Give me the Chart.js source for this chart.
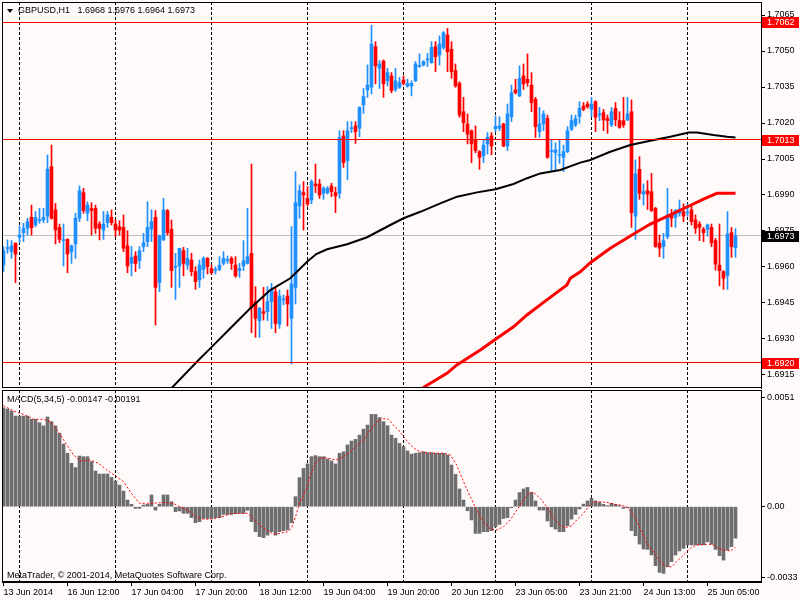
<!DOCTYPE html>
<html>
<head>
<meta charset="utf-8">
<script src="https://cdn.jsdelivr.net/npm/chart.js@4.4.1/dist/chart.umd.min.js"></script>
<style>
  html, body { margin: 0; padding: 0; background: #fffafa; }
  body { width: 800px; height: 600px; position: relative; overflow: hidden; font-family: "Liberation Sans", Arial, sans-serif; }
  canvas { position: absolute; left: 0; }
  #priceCanvas { top: 0; }
  #macdCanvas { top: 388px; }
  .note { position: absolute; font-size: 9px; line-height: 10px; color: #000; white-space: pre; }
  #tri { position: absolute; left: 7px; top: 9px; width: 0; height: 0;
         border-left: 3.5px solid transparent; border-right: 3.5px solid transparent; border-top: 4px solid #000; }
</style>
</head>
<body>
<canvas id="priceCanvas" width="800" height="390"></canvas>
<canvas id="macdCanvas" width="800" height="212"></canvas>
<div id="tri"></div>
<div class="note" style="left:18px; top:5px">GBPUSD,H1   1.6968 1.6976 1.6964 1.6973</div>
<div class="note" style="left:7px; top:394px">MACD(5,34,5) -0.00147 -0.00191</div>
<div class="note" style="left:7px; top:570px">MetaTrader, © 2001-2014, MetaQuotes Software Corp.</div>
<script>
// H1 candles, 13 Jun 19:00 .. 25 Jun 12:00 (one entry per bar)
const openPrices = [
  1.69608, 1.69676, 1.69664, 1.69699, 1.69724, 1.69743, 1.69761, 1.69807, 1.69775, 1.69793,
  1.69796, 1.69812, 1.70018, 1.69838, 1.69765, 1.69710, 1.69715, 1.69664, 1.69696, 1.69803,
  1.69910, 1.69824, 1.69844, 1.69844, 1.69779, 1.69754, 1.69785, 1.69807, 1.69779, 1.69768,
  1.69765, 1.69688, 1.69615, 1.69646, 1.69626, 1.69685, 1.69706, 1.69757, 1.69807, 1.69535,
  1.69713, 1.69835, 1.69757, 1.69599, 1.69604, 1.69668, 1.69608, 1.69629, 1.69581, 1.69546,
  1.69590, 1.69636, 1.69594, 1.69585, 1.69590, 1.69615, 1.69626, 1.69636, 1.69608, 1.69585,
  1.69604, 1.69615, 1.69657, 1.69456, 1.69376, 1.69414, 1.69414, 1.69456, 1.69497, 1.69362,
  1.69463, 1.69479, 1.69386, 1.69515, 1.69854, 1.69910, 1.69886, 1.69879, 1.69946, 1.69946,
  1.69907, 1.69910, 1.69938, 1.69910, 1.69907, 1.70146, 1.70043, 1.70176, 1.70188, 1.70178,
  1.70275, 1.70338, 1.70349, 1.70518, 1.70428, 1.70458, 1.70376, 1.70396, 1.70340, 1.70349,
  1.70379, 1.70354, 1.70354, 1.70376, 1.70435, 1.70442, 1.70463, 1.70451, 1.70518, 1.70483,
  1.70515, 1.70567, 1.70507, 1.70418, 1.70365, 1.70247, 1.70196, 1.70168, 1.70129, 1.70081,
  1.70063, 1.70113, 1.70146, 1.70176, 1.70178, 1.70196, 1.70104, 1.70226, 1.70338, 1.70313,
  1.70396, 1.70382, 1.70358, 1.70299, 1.70164, 1.70196, 1.70219, 1.70081, 1.70076, 1.70065,
  1.70057, 1.70081, 1.70174, 1.70192, 1.70226, 1.70271, 1.70279, 1.70257, 1.70289, 1.70233,
  1.70243, 1.70219, 1.70192, 1.70261, 1.70210, 1.70210, 1.70213, 1.70247, 1.69812, 1.70007,
  1.69904, 1.69918, 1.69914, 1.69844, 1.69699, 1.69685, 1.69726, 1.69817, 1.69807, 1.69824,
  1.69831, 1.69825, 1.69838, 1.69796, 1.69779, 1.69757, 1.69757, 1.69765, 1.69710, 1.69608,
  1.69581, 1.69563, 1.69743, 1.69680
];
const highPrices = [
  1.69685, 1.69713, 1.69710, 1.69701, 1.69771, 1.69782, 1.69803, 1.69858, 1.69831, 1.69844,
  1.69844, 1.70067, 1.70108, 1.69865, 1.69779, 1.69779, 1.69718, 1.69692, 1.69824, 1.69938,
  1.69928, 1.69872, 1.69868, 1.69858, 1.69789, 1.69831, 1.69831, 1.69838, 1.69796, 1.69793,
  1.69817, 1.69751, 1.69685, 1.69664, 1.69685, 1.69740, 1.69872, 1.69838, 1.69835, 1.69733,
  1.69886, 1.69840, 1.69796, 1.69657, 1.69678, 1.69682, 1.69678, 1.69657, 1.69601, 1.69629,
  1.69643, 1.69640, 1.69608, 1.69601, 1.69643, 1.69664, 1.69646, 1.69643, 1.69643, 1.69615,
  1.69710, 1.69844, 1.70029, 1.69518, 1.69432, 1.69515, 1.69518, 1.69532, 1.69515, 1.69504,
  1.69483, 1.69504, 1.69768, 1.69997, 1.69942, 1.69956, 1.69935, 1.69963, 1.70029, 1.69965,
  1.69935, 1.69935, 1.69949, 1.69932, 1.70168, 1.70168, 1.70206, 1.70206, 1.70206, 1.70268,
  1.70344, 1.70442, 1.70608, 1.70539, 1.70460, 1.70463, 1.70428, 1.70410, 1.70428, 1.70390,
  1.70396, 1.70382, 1.70376, 1.70456, 1.70488, 1.70460, 1.70490, 1.70539, 1.70539, 1.70563,
  1.70581, 1.70594, 1.70539, 1.70446, 1.70372, 1.70307, 1.70238, 1.70171, 1.70188, 1.70085,
  1.70129, 1.70160, 1.70160, 1.70229, 1.70226, 1.70199, 1.70279, 1.70358, 1.70382, 1.70438,
  1.70446, 1.70488, 1.70410, 1.70307, 1.70265, 1.70251, 1.70233, 1.70129, 1.70118, 1.70129,
  1.70108, 1.70185, 1.70233, 1.70233, 1.70289, 1.70285, 1.70289, 1.70307, 1.70293, 1.70265,
  1.70257, 1.70233, 1.70265, 1.70285, 1.70247, 1.70307, 1.70307, 1.70296, 1.70046, 1.70060,
  1.69946, 1.69960, 1.69990, 1.69849, 1.69733, 1.69740, 1.69928, 1.69840, 1.69840, 1.69879,
  1.69863, 1.69863, 1.69854, 1.69817, 1.69789, 1.69765, 1.69779, 1.69779, 1.69719, 1.69779,
  1.69585, 1.69831, 1.69765, 1.69760
];
const lowPrices = [
  1.69581, 1.69657, 1.69636, 1.69535, 1.69701, 1.69706, 1.69733, 1.69733, 1.69768, 1.69782,
  1.69785, 1.69785, 1.69799, 1.69696, 1.69701, 1.69604, 1.69576, 1.69615, 1.69636, 1.69789,
  1.69824, 1.69793, 1.69733, 1.69740, 1.69713, 1.69715, 1.69765, 1.69775, 1.69726, 1.69733,
  1.69664, 1.69576, 1.69563, 1.69581, 1.69594, 1.69664, 1.69685, 1.69706, 1.69358, 1.69497,
  1.69710, 1.69733, 1.69515, 1.69465, 1.69515, 1.69563, 1.69590, 1.69563, 1.69507, 1.69515,
  1.69553, 1.69571, 1.69571, 1.69571, 1.69585, 1.69608, 1.69615, 1.69590, 1.69557, 1.69557,
  1.69585, 1.69612, 1.69326, 1.69307, 1.69307, 1.69379, 1.69376, 1.69344, 1.69326, 1.69344,
  1.69442, 1.69354, 1.69196, 1.69446, 1.69803, 1.69754, 1.69854, 1.69863, 1.69910, 1.69886,
  1.69882, 1.69904, 1.69893, 1.69826, 1.69886, 1.70015, 1.69963, 1.70160, 1.70115, 1.70143,
  1.70240, 1.70307, 1.70321, 1.70363, 1.70344, 1.70307, 1.70354, 1.70326, 1.70331, 1.70344,
  1.70358, 1.70349, 1.70313, 1.70372, 1.70432, 1.70438, 1.70435, 1.70449, 1.70414, 1.70442,
  1.70507, 1.70414, 1.70386, 1.70349, 1.70224, 1.70164, 1.70113, 1.70035, 1.70076, 1.70007,
  1.70035, 1.70071, 1.70067, 1.70164, 1.70168, 1.70101, 1.70085, 1.70206, 1.70321, 1.70310,
  1.70340, 1.70354, 1.70247, 1.70140, 1.70140, 1.70168, 1.70053, 1.69997, 1.70004, 1.70032,
  1.69997, 1.70076, 1.70168, 1.70185, 1.70199, 1.70251, 1.70261, 1.70226, 1.70164, 1.70210,
  1.70168, 1.70157, 1.70185, 1.70188, 1.70178, 1.70182, 1.70210, 1.69765, 1.69715, 1.69882,
  1.69858, 1.69840, 1.69831, 1.69682, 1.69643, 1.69636, 1.69718, 1.69768, 1.69765, 1.69812,
  1.69789, 1.69812, 1.69775, 1.69740, 1.69710, 1.69706, 1.69729, 1.69685, 1.69587, 1.69521,
  1.69507, 1.69507, 1.69640, 1.69640
];
const closePrices = [
  1.69668, 1.69681, 1.69688, 1.69654, 1.69733, 1.69760, 1.69789, 1.69764, 1.69807, 1.69797,
  1.69807, 1.70008, 1.69803, 1.69754, 1.69715, 1.69713, 1.69654, 1.69688, 1.69803, 1.69918,
  1.69835, 1.69858, 1.69835, 1.69761, 1.69761, 1.69779, 1.69817, 1.69785, 1.69754, 1.69754,
  1.69678, 1.69604, 1.69640, 1.69615, 1.69668, 1.69701, 1.69765, 1.69789, 1.69515, 1.69729,
  1.69838, 1.69743, 1.69585, 1.69601, 1.69678, 1.69615, 1.69636, 1.69581, 1.69539, 1.69608,
  1.69636, 1.69601, 1.69576, 1.69589, 1.69608, 1.69636, 1.69631, 1.69615, 1.69563, 1.69594,
  1.69626, 1.69643, 1.69432, 1.69386, 1.69428, 1.69407, 1.69456, 1.69507, 1.69365, 1.69479,
  1.69467, 1.69446, 1.69529, 1.69868, 1.69918, 1.69900, 1.69863, 1.69956, 1.69938, 1.69900,
  1.69928, 1.69928, 1.69914, 1.69896, 1.70140, 1.70035, 1.70168, 1.70179, 1.70164, 1.70265,
  1.70310, 1.70358, 1.70529, 1.70438, 1.70446, 1.70363, 1.70410, 1.70335, 1.70376, 1.70368,
  1.70365, 1.70365, 1.70365, 1.70446, 1.70438, 1.70456, 1.70465, 1.70515, 1.70476, 1.70529,
  1.70576, 1.70497, 1.70414, 1.70354, 1.70233, 1.70201, 1.70154, 1.70113, 1.70085, 1.70057,
  1.70108, 1.70140, 1.70104, 1.70186, 1.70188, 1.70104, 1.70238, 1.70326, 1.70326, 1.70386,
  1.70363, 1.70368, 1.70285, 1.70185, 1.70196, 1.70238, 1.70057, 1.70085, 1.70088, 1.70068,
  1.70081, 1.70168, 1.70210, 1.70219, 1.70261, 1.70257, 1.70268, 1.70279, 1.70224, 1.70238,
  1.70213, 1.70210, 1.70247, 1.70213, 1.70182, 1.70192, 1.70238, 1.69826, 1.69988, 1.69907,
  1.69914, 1.69904, 1.69835, 1.69685, 1.69678, 1.69710, 1.69817, 1.69803, 1.69835, 1.69840,
  1.69812, 1.69828, 1.69789, 1.69761, 1.69765, 1.69743, 1.69775, 1.69701, 1.69612, 1.69585,
  1.69553, 1.69738, 1.69685, 1.69730
];

// moving averages, read at sample bars
const blackMaBars = [42.1, 49.2, 51.7, 56.7, 61.7, 66.7, 71.7, 75.9, 78.2, 80.9, 85.9, 90.9,
  96.7, 100, 104.2, 109.2, 113.4, 118.4, 123, 127.5, 130.9, 134.2, 139.2, 144.2, 146.7,
  151.7, 156.7, 161.7, 166.7, 171.3, 173.4, 177.5, 180.9, 183];
const blackMaValues = [1.69097, 1.69220, 1.69261, 1.69345, 1.69428, 1.69504, 1.69553, 1.69622,
  1.69654, 1.69674, 1.69695, 1.69724, 1.69775, 1.69803, 1.69830, 1.69865, 1.69893, 1.69911,
  1.69924, 1.69946, 1.69970, 1.69990, 1.70004, 1.70035, 1.70046, 1.70080, 1.70108, 1.70126,
  1.70143, 1.70160, 1.70160, 1.70150, 1.70143, 1.70140];
const redMaBars = [104.85, 110.85, 113.35, 119.2, 123, 127.5, 130.85, 135.85, 140.85, 141.7,
  144.2, 146.7, 151.7, 156.7, 161.7, 166.7, 171, 175, 178.35, 183];
const redMaValues = [1.69097, 1.69157, 1.69192, 1.69254, 1.69299, 1.69351, 1.69400, 1.69463,
  1.69525, 1.69553, 1.69580, 1.69618, 1.69678, 1.69729, 1.69779, 1.69817, 1.69851, 1.69883,
  1.69907, 1.69907];

// MACD(5,34,5) main histogram, one per bar
const macdValues = [
  0.00463, 0.00457, 0.00448, 0.00424, 0.00424, 0.00424, 0.00424, 0.00409, 0.00409, 0.00393,
  0.00378, 0.00420, 0.00398, 0.00378, 0.00343, 0.00293, 0.00250, 0.00203, 0.00183, 0.00237,
  0.00234, 0.00234, 0.00211, 0.00167, 0.00153, 0.00153, 0.00153, 0.00137, 0.00120, 0.00101,
  0.00073, 0.00031, 0.00011, -0.00008, -0.00008, 0.00008, 0.00011, 0.00055, -0.00016, 0.00011,
  0.00055, 0.00055, 0.00023, -0.00023, -0.00020, -0.00031, -0.00031, -0.00051, -0.00075, -0.00070,
  -0.00055, -0.00055, -0.00055, -0.00051, -0.00051, -0.00036, -0.00036, -0.00036, -0.00033, -0.00031,
  -0.00031, -0.00017, -0.00070, -0.00117, -0.00140, -0.00145, -0.00133, -0.00117, -0.00133, -0.00117,
  -0.00112, -0.00109, -0.00075, 0.00047, 0.00136, 0.00179, 0.00200, 0.00234, 0.00239, 0.00234,
  0.00234, 0.00223, 0.00214, 0.00200, 0.00250, 0.00257, 0.00289, 0.00307, 0.00315, 0.00335,
  0.00363, 0.00382, 0.00432, 0.00432, 0.00417, 0.00398, 0.00379, 0.00335, 0.00320, 0.00296,
  0.00281, 0.00261, 0.00246, 0.00250, 0.00253, 0.00257, 0.00253, 0.00253, 0.00250, 0.00250,
  0.00250, 0.00242, 0.00195, 0.00151, 0.00083, 0.00031, -0.00019, -0.00062, -0.00125, -0.00125,
  -0.00117, -0.00117, -0.00112, -0.00094, -0.00083, -0.00055, -0.00051, -0.00005, 0.00031, 0.00066,
  0.00083, 0.00090, 0.00067, 0.00027, -0.00016, -0.00016, -0.00067, -0.00094, -0.00105, -0.00117,
  -0.00117, -0.00089, -0.00058, -0.00036, -0.00011, 0.00012, 0.00027, 0.00039, 0.00027, 0.00020,
  0.00011, 0.00005, 0.00016, 0.00011, 0.00005, -0.00008, -0.00005, -0.00112, -0.00136, -0.00175,
  -0.00198, -0.00200, -0.00226, -0.00276, -0.00307, -0.00312, -0.00281, -0.00257, -0.00226, -0.00207,
  -0.00195, -0.00179, -0.00179, -0.00179, -0.00179, -0.00179, -0.00164, -0.00176, -0.00200, -0.00229,
  -0.00250, -0.00203, -0.00187, -0.00147
];
// signal line, read at sample bars
const signalBars = [0, 2.5, 5, 7.5, 10, 11.7, 13.75, 15.8, 17.5, 19.2, 21.7, 23.75, 25.8, 27.9,
  30, 32, 34, 36, 37.5, 40, 42.5, 44, 46, 48, 50, 52, 54, 57, 59, 61, 62.5, 64, 66, 67.5, 69,
  71, 72, 73, 74, 75.8, 76.7, 78, 79, 80.8, 83, 85, 86.7, 88.3, 90, 91.7, 93.3, 94.6, 96.25,
  97.5, 98.75, 100, 101.7, 103.3, 105, 107.5, 110, 111.7, 113.3, 115, 116.7, 118.3, 120, 121.7,
  123.3, 125, 126.7, 128.3, 130, 131.25, 132.5, 134.2, 135.8, 137.5, 139.2, 140.4, 142.1, 143.3,
  145, 146.25, 147.5, 149.2, 150.8, 152.9, 154.2, 155.8, 157.5, 159.2, 160.8, 162.5, 164.2,
  165.8, 167.1, 168.3, 170, 171.7, 173.3, 175, 177.1, 178.75, 180, 181.7, 183];
const signalValues = [0.00473, 0.00448, 0.00432, 0.00409, 0.00409, 0.00398, 0.00351, 0.00289,
  0.00242, 0.00214, 0.00218, 0.00203, 0.00172, 0.00145, 0.00117, 0.00062, 0.00016, 0.00016,
  0.00016, 0.00020, 0.00016, 0, -0.00016, -0.00047, -0.00059, -0.00058, -0.00050, -0.00033,
  -0.00031, -0.00031, -0.00055, -0.00086, -0.00112, -0.00129, -0.00125, -0.00117, -0.00101,
  -0.00047, 0.00016, 0.00086, 0.00148, 0.00203, 0.00226, 0.00229, 0.00218, 0.00234, 0.00257,
  0.00285, 0.00312, 0.00359, 0.00398, 0.00413, 0.00409, 0.00382, 0.00359, 0.00328, 0.00289,
  0.00265, 0.00253, 0.00250, 0.00250, 0.00242, 0.00195, 0.00117, 0.00047, -0.00016, -0.00070,
  -0.00105, -0.00109, -0.00094, -0.00062, -0.00016, 0.00031, 0.00062, 0.00067, 0.00039, 0,
  -0.00055, -0.00086, -0.00098, -0.00089, -0.00062, -0.00031, 0, 0.00023, 0.00023, 0.00020,
  0.00011, 0.00008, 0, -0.00039, -0.00101, -0.00172, -0.00211, -0.00257, -0.00281, -0.00281,
  -0.00257, -0.00226, -0.00195, -0.00179, -0.00176, -0.00176, -0.00195, -0.00203, -0.00207,
  -0.00191];

// axes and marked levels
const labelBars = [0, 16, 32, 48, 64, 80, 96, 112, 128, 144, 160, 176];
const labelTexts = ['13 Jun 2014', '16 Jun 12:00', '17 Jun 04:00', '17 Jun 20:00', '18 Jun 12:00',
  '19 Jun 04:00', '19 Jun 20:00', '20 Jun 12:00', '23 Jun 05:00', '23 Jun 21:00',
  '24 Jun 13:00', '25 Jun 05:00'];
const separatorBars = [4, 28, 52, 76, 100, 123, 147, 171];
const priceTicks = [1.6915, 1.6930, 1.6945, 1.6960, 1.6975, 1.6990, 1.7005, 1.7020, 1.7035, 1.7050, 1.7065];
const macdTicks = [-0.0033, 0, 0.0051];
const levelPrices = [1.7062, 1.7013, 1.6920];
const bidPrice = 1.6973;

const bullColor = '#1e90ff';
const bearColor = '#ff0000';
const axisFont = { family: 'Liberation Sans', size: 9 };

const candleColors = closePrices.map((c, i) => (c >= openPrices[i] ? bullColor : bearColor));
const bodies = openPrices.map((o, i) => ({ x: i, y: [o, closePrices[i]] }));
const wicks = lowPrices.map((l, i) => ({ x: i, y: [l, highPrices[i]] }));
const toPoints = (xs, ys) => xs.map((x, i) => ({ x: x, y: ys[i] }));

function barAxis(extra) {
  return Object.assign({
    type: 'linear',
    min: -0.375,
    max: 189.375,
    offset: false,
  }, extra);
}

function drawSeparators(chart) {
  const { ctx, chartArea: a, scales } = chart;
  ctx.save();
  ctx.strokeStyle = '#000';
  ctx.lineWidth = 1;
  ctx.setLineDash([3, 2]);
  separatorBars.forEach((b) => {
    const px = Math.floor(scales.x.getPixelForValue(b)) + 0.5;
    ctx.beginPath();
    ctx.moveTo(px, a.top);
    ctx.lineTo(px, a.bottom);
    ctx.stroke();
  });
  ctx.restore();
}

function drawFrame(chart) {
  const { ctx, chartArea: a } = chart;
  ctx.save();
  ctx.strokeStyle = '#000';
  ctx.lineWidth = 1;
  ctx.strokeRect(a.left + 0.5, a.top + 0.5, a.right - a.left, a.bottom - a.top - 1);
  ctx.restore();
}

const priceOverlay = {
  id: 'priceOverlay',
  beforeDatasetsDraw(chart) {
    const { ctx, chartArea: a, scales } = chart;
    drawSeparators(chart);
    ctx.save();
    const by = Math.floor(scales.y.getPixelForValue(bidPrice)) + 0.5;
    ctx.strokeStyle = '#c0c0c0';
    ctx.beginPath();
    ctx.moveTo(a.left, by);
    ctx.lineTo(a.right, by);
    ctx.stroke();
    ctx.restore();
  },
  afterDatasetsDraw(chart) {
    const { ctx, chartArea: a, scales } = chart;
    ctx.save();
    ctx.strokeStyle = '#ff0000';
    ctx.lineWidth = 1;
    levelPrices.forEach((p) => {
      const py = Math.floor(scales.y.getPixelForValue(p)) + 0.5;
      ctx.beginPath();
      ctx.moveTo(a.left, py);
      ctx.lineTo(a.right, py);
      ctx.stroke();
    });
    ctx.restore();
  },
  afterDraw(chart) {
    const { ctx, chartArea: a, scales } = chart;
    drawFrame(chart);
    // price tags on the right axis
    const tags = levelPrices.map((p) => [p, '#ff0000']).concat([[bidPrice, '#000000']]);
    ctx.save();
    ctx.font = '9px "Liberation Sans"';
    ctx.textBaseline = 'middle';
    tags.forEach(([p, col]) => {
      const py = Math.round(scales.y.getPixelForValue(p));
      ctx.fillStyle = col;
      ctx.fillRect(a.right + 1, py - 5, 37, 11);
      ctx.fillStyle = '#ffffff';
      ctx.fillText(p.toFixed(4), a.right + 6, py + 0.5);
    });
    ctx.restore();
  }
};

const macdOverlay = {
  id: 'macdOverlay',
  beforeDatasetsDraw(chart) { drawSeparators(chart); },
  afterDraw(chart) { drawFrame(chart); }
};

new Chart(document.getElementById('priceCanvas'), {
  type: 'bar',
  data: {
    datasets: [
      {
        type: 'line', label: 'MA black', data: toPoints(blackMaBars, blackMaValues),
        borderColor: '#000000', borderWidth: 2, pointRadius: 0, tension: 0, clip: 0, order: 0
      },
      {
        type: 'line', label: 'MA red', data: toPoints(redMaBars, redMaValues),
        borderColor: '#ff0000', borderWidth: 3, pointRadius: 0, tension: 0, clip: 0, order: 1
      },
      {
        label: 'body', data: bodies, backgroundColor: candleColors, borderWidth: 0,
        barThickness: 3, grouped: false, minBarLength: 1, order: 2
      },
      {
        label: 'wick', data: wicks, backgroundColor: candleColors, borderWidth: 0,
        barThickness: 1, grouped: false, order: 3
      }
    ]
  },
  options: {
    responsive: false,
    animation: false,
    events: [],
    layout: { padding: { left: 2, top: 2, bottom: 2, right: 0 } },
    plugins: { legend: { display: false }, tooltip: { enabled: false } },
    scales: {
      x: barAxis({ display: false, grid: { offset: false } }),
      y: {
        position: 'right',
        min: 1.690958,
        max: 1.707042,
        afterFit: (s) => { s.width = 39; s.paddingTop = 0; s.paddingBottom = 0; },
        afterBuildTicks: (s) => { s.ticks = priceTicks.map((v) => ({ value: v })); },
        ticks: { autoSkip: false, padding: 2, color: '#000', font: axisFont, callback: (v) => v.toFixed(4) },
        grid: { drawOnChartArea: false, tickLength: 4, color: '#000' },
        border: { color: '#000' }
      }
    }
  },
  plugins: [priceOverlay]
});

new Chart(document.getElementById('macdCanvas'), {
  type: 'bar',
  data: {
    datasets: [
      {
        type: 'line', label: 'Signal', data: toPoints(signalBars, signalValues),
        borderColor: '#ff0000', borderWidth: 1, borderDash: [2, 2], pointRadius: 0,
        tension: 0, clip: 0, order: 0
      },
      {
        label: 'MACD', data: macdValues.map((v, i) => ({ x: i, y: v })),
        backgroundColor: '#6e6e6e', borderWidth: 0, barThickness: 3, grouped: false, order: 1
      }
    ]
  },
  options: {
    responsive: false,
    animation: false,
    events: [],
    layout: { padding: { left: 2, top: 2, bottom: 0, right: 0 } },
    plugins: { legend: { display: false }, tooltip: { enabled: false } },
    scales: {
      x: barAxis({
        afterFit: (s) => { s.height = 18; s.paddingLeft = 0; s.paddingRight = 0; },
        afterBuildTicks: (s) => { s.ticks = labelBars.map((v) => ({ value: v })); },
        ticks: {
          autoSkip: false, maxRotation: 0, minRotation: 0, align: 'start', padding: 1,
          color: '#000', font: axisFont,
          callback: (v) => labelTexts[labelBars.indexOf(v)]
        },
        grid: { drawOnChartArea: false, tickLength: 4, color: '#000', offset: false },
        border: { color: '#000' }
      }),
      y: {
        position: 'right',
        min: -0.003524,
        max: 0.005461,
        afterFit: (s) => { s.width = 39; s.paddingTop = 0; s.paddingBottom = 0; },
        afterBuildTicks: (s) => { s.ticks = macdTicks.map((v) => ({ value: v })); },
        ticks: {
          autoSkip: false, padding: 2, color: '#000', font: axisFont,
          callback: (v) => (v === 0 ? '0.00' : v.toFixed(4))
        },
        grid: { drawOnChartArea: false, tickLength: 4, color: '#000' },
        border: { color: '#000' }
      }
    }
  },
  plugins: [macdOverlay]
});
</script>
</body>
</html>
